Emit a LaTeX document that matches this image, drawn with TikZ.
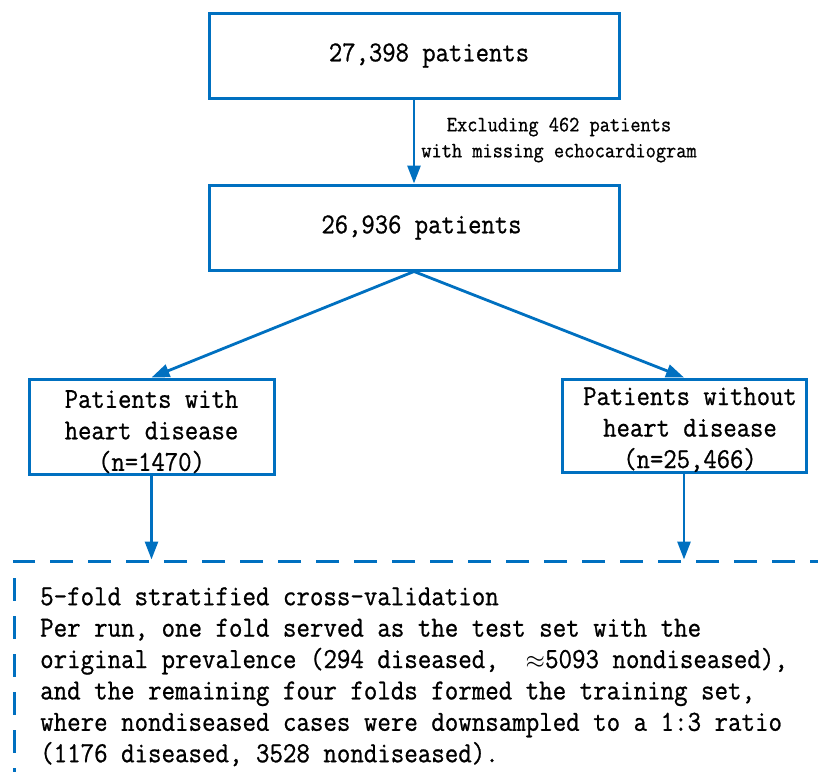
\documentclass[tikz,border=0pt]{standalone}
\usepackage{fontspec}
\newfontfamily\reffont[FakeStretch=0.9,FakeBold=0.8]{Latin Modern Mono}
\usetikzlibrary{arrows.meta}
\definecolor{refblue}{HTML}{0070C0}
\begin{document}
\begin{tikzpicture}[x=1pt,y=-1pt,
  flowbox/.style={draw=refblue, line width=3pt, rectangle, inner sep=0pt,
    font=\reffont\fontsize{28.8}{31.5}\selectfont, align=center},
  flowarrow/.style={draw=refblue, line width=2.8pt,
    -{Triangle[length=18pt,width=13pt]}},
  cvbox/.style={draw=refblue, line width=3pt, rectangle, inner sep=0pt,
    dash pattern=on 23pt off 15pt},
  cvtext/.style={font=\reffont\fontsize{29.1}{31.4}\selectfont, align=left,
    inner sep=0pt, anchor=north west},
  exclabel/.style={font=\reffont\fontsize{22}{26}\selectfont, align=center,
    inner sep=0pt}]
\useasboundingbox (0,0) rectangle (818,771);
\clip (0,0) rectangle (818,771);

\node[flowbox, minimum width=410pt, minimum height=85pt] (b1) at (414,55.5)
  {\hspace*{30pt}27,398 patients};
\node[flowbox, minimum width=410pt, minimum height=85pt] (b2) at (414,227.5)
  {\hspace*{15pt}26,936 patients};
\node[flowbox, minimum width=245pt, minimum height=95pt] (lbox) at (151.5,426.5)
  {\rule{0pt}{28pt}Patients with\\heart disease\\(n=1470)};
\node[flowbox, minimum width=244pt, minimum height=93pt] (rbox) at (684,425.5)
  {\rule{0pt}{26pt}\hspace*{12pt}Patients without\\\hspace*{12pt}heart disease\\\hspace*{12pt}(n=25,466)};
\node[cvbox, minimum width=886pt, minimum height=339pt] (cv) at (457,730.5) {};

\node[exclabel] (excl) at (559,140)
  {Excluding 462 patients\\with missing echocardiogram};

\node[cvtext] (cvt) at (40,585)
  {\rule{0pt}{20pt}5-fold stratified cross-validation\\
   Per run, one fold served as the test set with the\\
   original prevalence (294 diseased,\ \ $\approx$5093 nondiseased),\\
   and the remaining four folds formed the training set,\\
   where nondiseased cases were downsampled to a 1:3 ratio\\
   (1176 diseased, 3528 nondiseased).};

\draw[flowarrow] (b1.south) -- (b2.north);
\draw[flowarrow] (b2.south) -- (lbox.north);
\draw[flowarrow] (b2.south) -- (rbox.north);
\draw[flowarrow] (lbox.south) -- (lbox.south |- cv.north);
\draw[flowarrow] (rbox.south) -- (rbox.south |- cv.north);
\end{tikzpicture}
\end{document}
